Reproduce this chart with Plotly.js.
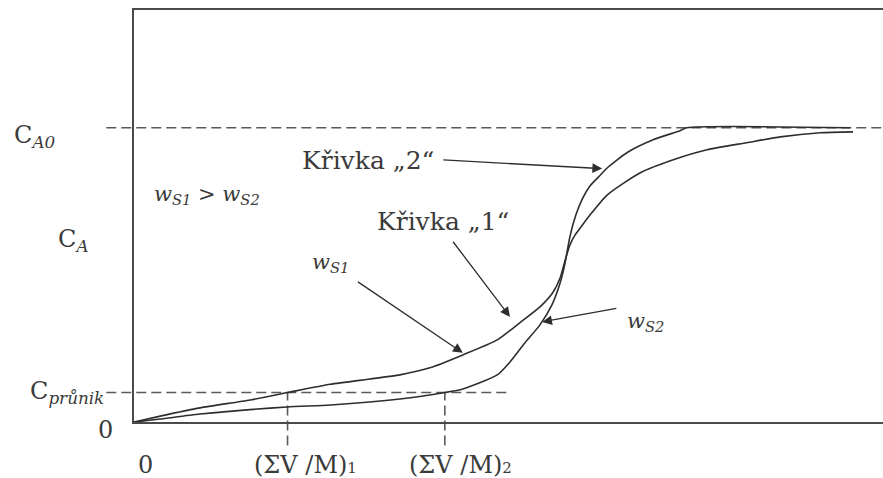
<!DOCTYPE html>
<html><head><meta charset="utf-8">
<script src="https://cdn.plot.ly/plotly-3.0.1.min.js"></script>
<style>html,body{margin:0;padding:0;background:#fff}#chart{width:883px;height:478px}</style>
</head><body><div id="chart"></div>
<script>
// ---- data ----
const X_MAX = 10;
const Y_MAX = 1.4;
const C_A0 = 1.0;
const C_PRUNIK = 0.1;
const X_BREAK = [2.05, 4.15];   // (ΣV/M)1, (ΣV/M)2

// Křivka „1“ (w_S1)
const curve1X = [0, 0.35, 0.88, 1.55, 2.05, 2.62, 3.15, 3.55, 3.95, 4.39, 4.85, 5.15, 5.42, 5.59, 5.69, 5.75, 5.82, 5.89, 5.96, 6.09, 6.32, 6.76, 7.20, 7.65, 8.18, 8.63, 9.16, 9.60];
const curve1Y = [0, 0.02, 0.048, 0.075, 0.10, 0.128, 0.146, 0.160, 0.184, 0.228, 0.279, 0.337, 0.391, 0.439, 0.490, 0.544, 0.602, 0.636, 0.660, 0.704, 0.772, 0.847, 0.891, 0.925, 0.949, 0.969, 0.983, 0.986];
// Křivka „2“ (w_S2)
const curve2X = [0, 0.35, 0.88, 2.04, 2.62, 3.55, 4.15, 4.39, 4.85, 5.02, 5.22, 5.42, 5.58, 5.69, 5.75, 5.82, 5.90, 5.98, 6.09, 6.23, 6.32, 6.58, 6.93, 7.29, 7.38, 9.56];
const curve2Y = [0, 0.010, 0.027, 0.051, 0.058, 0.078, 0.10, 0.112, 0.160, 0.204, 0.269, 0.330, 0.398, 0.473, 0.534, 0.630, 0.704, 0.755, 0.803, 0.840, 0.864, 0.915, 0.959, 0.990, 1.0, 1.0];

const SUB = '<span style="font-size:15px">';
const xLabels = ['0', '(ΣV /M)' + SUB + '1</span>', '(ΣV /M)' + SUB + '2</span>'];
const yLabels = ['0', 'C<sub><i>průnik</i></sub>', 'C<sub><i>A</i></sub>', 'C<sub><i>A0</i></sub>'];
const curveLabels = ['Křivka „1“', 'Křivka „2“'];
const wLabels = ['<i>w<sub>S1</sub></i>', '<i>w<sub>S2</sub></i>', '<i>w<sub>S1</sub></i> &gt; <i>w<sub>S2</sub></i>'];

// ---- styling ----
const INK = '#2e2e2e';
const TXT = '#3a3a3a';
const DASH = '#5a5a5a';
const FONT = 'DejaVu Serif';
const LEFT_EXT = -0.037;   // dashed guides reach left of the axis (paper units)
const DROP = -0.08;        // vertical guides drop below the axis (data units)

const line = {color: INK, width: 1.6, shape: 'spline', smoothing: 0.6};
const traces = [
  {x: curve1X, y: curve1Y, mode: 'lines', line: line, name: curveLabels[0], hoverinfo: 'skip'},
  {x: curve2X, y: curve2Y, mode: 'lines', line: line, name: curveLabels[1], hoverinfo: 'skip'}
];

const dashLine = {color: DASH, width: 1.6, dash: '10px,5px'};
const shapes = [
  {type: 'line', xref: 'paper', yref: 'y', x0: LEFT_EXT, x1: 1, y0: C_A0, y1: C_A0, line: dashLine, layer: 'below'},
  {type: 'line', xref: 'paper', yref: 'y', x0: LEFT_EXT, x1: 5.02 / X_MAX, y0: C_PRUNIK, y1: C_PRUNIK, line: dashLine, layer: 'below'},
  {type: 'line', xref: 'x', yref: 'paper', x0: X_BREAK[0], x1: X_BREAK[0], y0: DROP / Y_MAX, y1: C_PRUNIK / Y_MAX, line: dashLine, layer: 'below'},
  {type: 'line', xref: 'x', yref: 'paper', x0: X_BREAK[1], x1: X_BREAK[1], y0: DROP / Y_MAX, y1: C_PRUNIK / Y_MAX, line: dashLine, layer: 'below'}
];

function txt(text, xref, x, yref, y, size, extra) {
  return Object.assign({text: text, xref: xref, x: x, yref: yref, y: y, showarrow: false,
    xanchor: 'left', yanchor: 'middle', font: {family: FONT, size: size, color: TXT}}, extra || {});
}
function arrow(hx, hy, tx, ty) {
  return {text: ' ', x: hx, y: hy, xref: 'x', yref: 'y', ax: tx, ay: ty, axref: 'x', ayref: 'y',
    showarrow: true, arrowhead: 2, arrowsize: 1.5, arrowwidth: 1.3, arrowcolor: INK, standoff: 0};
}

const annotations = [
  // y-side labels
  txt(yLabels[3], 'paper', -0.163, 'y', C_A0, 24, {yshift: -9}),
  txt(yLabels[2], 'paper', -0.104, 'paper', 0.44, 24),
  txt(yLabels[1], 'paper', -0.142, 'y', C_PRUNIK, 24),
  txt(yLabels[0], 'paper', -0.025, 'y', 0, 24, {xanchor: 'right', yshift: -8}),
  // x-side labels
  txt(xLabels[0], 'x', 0, 'paper', -0.105, 24, {xshift: 2}),
  txt(xLabels[1], 'x', X_BREAK[0], 'paper', -0.105, 24, {xshift: -36}),
  txt(xLabels[2], 'x', X_BREAK[1], 'paper', -0.105, 24, {xshift: -38}),
  // inner labels
  txt(wLabels[2], 'x', 0.24, 'y', 0.77, 21),
  txt(curveLabels[1], 'x', 2.22, 'y', 0.89, 25),
  txt(curveLabels[0], 'x', 3.22, 'y', 0.68, 25),
  txt(wLabels[0], 'x', 2.35, 'y', 0.54, 21),
  txt(wLabels[1], 'x', 6.55, 'y', 0.34, 21),
  // arrows
  arrow(6.25, 0.861, 4.09, 0.891),
  arrow(5.02, 0.357, 4.22, 0.626),
  arrow(4.39, 0.235, 2.95, 0.483),
  arrow(5.45, 0.340, 6.48, 0.388)
];

const axisCommon = {showgrid: false, zeroline: false, showticklabels: false, ticks: '',
  showline: true, linecolor: '#4a4a4a', linewidth: 1.6, fixedrange: true};

const layout = {
  width: 883, height: 478,
  margin: {l: 134, r: 0, t: 10, b: 56},
  paper_bgcolor: '#fff', plot_bgcolor: '#fff',
  showlegend: false,
  xaxis: Object.assign({range: [0, X_MAX], mirror: true}, axisCommon),
  yaxis: Object.assign({range: [0, Y_MAX]}, axisCommon),
  shapes: shapes,
  annotations: annotations
};

Plotly.newPlot('chart', traces, layout, {staticPlot: true, displayModeBar: false});
</script>
</body></html>
